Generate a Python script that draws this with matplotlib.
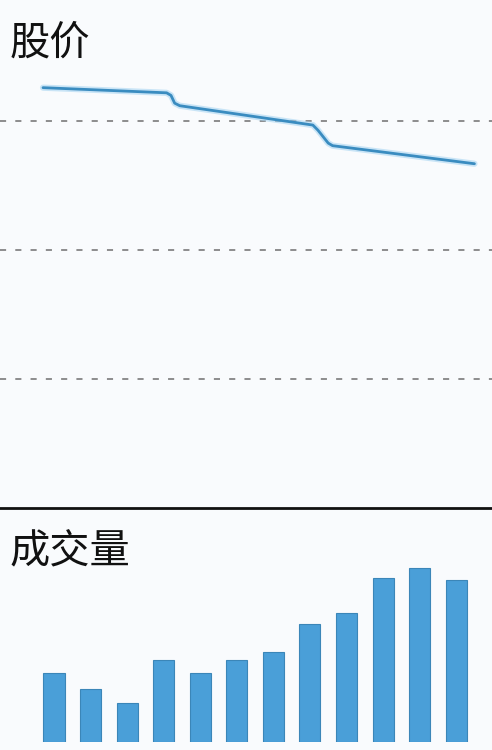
import matplotlib
import matplotlib.pyplot as plt

matplotlib.use('Agg')
plt.rcParams['font.family'] = ['Noto Sans CJK SC', 'DejaVu Sans']

# Price line (x in trading-day index, shared with the volume bars)
price_x = [-0.3, 3.08, 3.2, 3.3, 3.44, 7.08, 7.22, 7.5, 7.62, 11.5]
price_y = [32.6, 32.2, 32.0, 31.4, 31.2, 29.7, 29.3, 28.3, 28.1, 26.7]
price_grid = [10, 20, 30]

# Volume bars
days = list(range(12))
volume = [39.7, 30.5, 22.4, 47.1, 39.7, 47.1, 51.7, 67.8, 74.1, 94.3, 100, 93.1]

bg = '#f9fbfd'
fig = plt.figure(figsize=(4.92, 7.5), dpi=100, facecolor=bg)

xlim = (-1.477, 11.98)

# top panel: stock price
ax1 = fig.add_axes([0, 0.3227, 1, 0.6773])
ax1.set_facecolor(bg)
ax1.set_xlim(*xlim)
ax1.set_ylim(0, 39.4)
for g in price_grid:
    ax1.axhline(g, color='#6f6f6f', lw=1.1, dashes=(4, 6))
ax1.plot(price_x, price_y, color='#a9d6f2', lw=4.5, alpha=0.6,
         solid_joinstyle='round', solid_capstyle='round')
ax1.plot(price_x, price_y, color='#3a8cc0', lw=2,
         solid_joinstyle='round', solid_capstyle='round')
ax1.axis('off')
ax1.text(0.02, 0.955, '股价', transform=ax1.transAxes, fontsize=29,
         va='top', ha='left', color='#111111', weight='medium')

# bottom panel: volume
ax2 = fig.add_axes([0, 0.0107, 1, 0.312])
ax2.set_facecolor(bg)
ax2.set_xlim(*xlim)
ax2.set_ylim(0, 134.5)
ax2.bar(days, volume, width=0.575, color='#4a9fd8', edgecolor='#3b86b8', linewidth=0.8)
ax2.axis('off')
ax2.text(0.02, 0.9, '成交量', transform=ax2.transAxes, fontsize=29,
         va='top', ha='left', color='#111111', weight='medium')

# separator between panels
fig.add_artist(plt.Line2D([0, 1], [0.3227, 0.3227], color='#111111', lw=2,
                          transform=fig.transFigure))

fig.savefig('out.png', dpi=100, facecolor=bg)
